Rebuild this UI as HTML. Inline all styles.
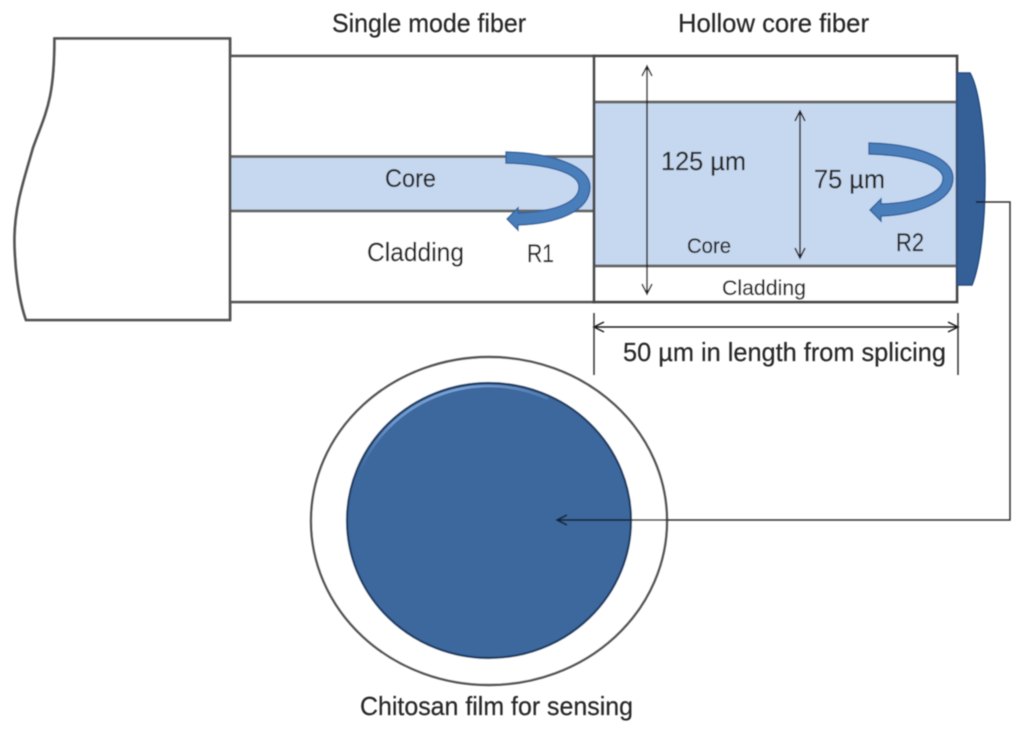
<!DOCTYPE html>
<html>
<head>
<meta charset="utf-8">
<style>
html,body{margin:0;padding:0;background:#fff;width:1024px;height:735px;overflow:hidden}
svg{display:block}
text{font-family:"Liberation Sans",sans-serif;fill:#262626}
</style>
</head>
<body>
<svg width="1024" height="735" viewBox="0 0 1024 735" xmlns="http://www.w3.org/2000/svg">
<defs>
<filter id="soft" x="-5%" y="-5%" width="110%" height="110%"><feGaussianBlur stdDeviation="0.5"/></filter>
<linearGradient id="rim" gradientUnits="userSpaceOnUse" x1="358" y1="470" x2="590" y2="400">
<stop offset="0" stop-color="#3c679d"/>
<stop offset="0.2" stop-color="#6d99d0"/>
<stop offset="0.5" stop-color="#7aa4d9"/>
<stop offset="1" stop-color="#3c679d"/>
</linearGradient>
</defs>
<g filter="url(#soft)">
<!-- left housing -->
<path d="M54.500 38.500H230V320H26C19 300 14.500 268 14.500 238C15 205 24 180 33 148C46 112 54.500 100 54.500 38.500Z" fill="#fff" stroke="#555" stroke-width="2.800"/>
<!-- single mode fiber -->
<rect x="230" y="56" width="364" height="246" fill="#fff" stroke="#555" stroke-width="2.700"/>
<rect x="230" y="156.500" width="364" height="54.500" fill="#c6d8f0" stroke="#666" stroke-width="2.900"/>
<line x1="230" y1="38" x2="230" y2="320" stroke="#555" stroke-width="2.800"/>
<!-- hollow core fiber -->
<rect x="594" y="56" width="363" height="246" fill="#fff" stroke="#444" stroke-width="2.700"/>
<rect x="594" y="102" width="363" height="164" fill="#c6d8f0" stroke="#666" stroke-width="3"/>
<line x1="594" y1="56" x2="594" y2="302" stroke="#4d4d4d" stroke-width="2.800"/>
<!-- film -->
<path d="M957 73H970C980 90 985 140 985 180C985 225 980 265 972 285H957Z" fill="#345f97" stroke="#284d80" stroke-width="1.500"/>
<!-- R1 -->
<path d="M506 152C550 153 590 165 590 187C590 212 555 224 518 225V230L507 219L518 208V213C550 212 579 204 579 187C579 172 545 164 506 163Z" fill="#4a7ebb" stroke="#33639e" stroke-width="1.400"/>
<!-- R2 -->
<path d="M869 143C915 144 953 157 953 178C953 202 915 215 881 216V221L870 210L881 199V204C912 203 943 195 943 178C943 165 910 155 869 154Z" fill="#4a7ebb" stroke="#33639e" stroke-width="1.400"/>
<!-- dimension arrows -->
<g stroke="#1f1f1f" stroke-width="1.500" fill="none">
<path d="M647 66V294M642 76L647 66L652 76M642 284L647 294L652 284"/>
<path d="M800 111V258M795 121L800 111L805 121M795 248L800 258L805 248"/>
<path d="M594 327H958M604 322L594 327L604 332M948 322L958 327L948 332"/>
</g>
<g stroke="#333" stroke-width="1.500">
<line x1="594" y1="313" x2="594" y2="375"/>
<line x1="958" y1="313" x2="958" y2="375"/>
</g>
<!-- bottom circles -->
<ellipse cx="489" cy="521" rx="178" ry="164" fill="#fff" stroke="#555" stroke-width="2.400"/>
<ellipse cx="489" cy="520.500" rx="142" ry="137.500" fill="#3c679d" stroke="#1f3c63" stroke-width="2.200"/>
<ellipse cx="489" cy="520.500" rx="139" ry="134.500" fill="none" stroke="url(#rim)" stroke-width="2.600" stroke-dasharray="250 600" stroke-dashoffset="-455"/>
<!-- connector -->
<path d="M976 202H1010V520H557" fill="none" stroke="#333" stroke-width="1.500"/>
<path d="M567 515L557 520L567 525" fill="none" stroke="#14233a" stroke-width="1.600"/>
<line x1="557" y1="520" x2="631" y2="520" stroke="#14233a" stroke-width="1.500"/>
<line x1="976" y1="202" x2="985" y2="202" stroke="#14233a" stroke-width="1.500"/>
<!-- labels -->
<g stroke="#262626" stroke-width="0.200">
<text x="332" y="32" font-size="26" textLength="194" lengthAdjust="spacingAndGlyphs">Single mode fiber</text>
<text x="678" y="32" font-size="26" textLength="191" lengthAdjust="spacingAndGlyphs">Hollow core fiber</text>
<text x="385" y="187" font-size="25" textLength="51" lengthAdjust="spacingAndGlyphs">Core</text>
<text x="367" y="261" font-size="26" textLength="97" lengthAdjust="spacingAndGlyphs">Cladding</text>
<text x="527" y="262" font-size="25" textLength="27" lengthAdjust="spacingAndGlyphs">R1</text>
<text x="661" y="170" font-size="26" textLength="85" lengthAdjust="spacingAndGlyphs">125 µm</text>
<text x="814" y="188" font-size="26" textLength="71" lengthAdjust="spacingAndGlyphs">75 µm</text>
<text x="687" y="253" font-size="21.500" textLength="44" lengthAdjust="spacingAndGlyphs">Core</text>
<text x="722" y="295" font-size="21.500" textLength="84" lengthAdjust="spacingAndGlyphs">Cladding</text>
<text x="896" y="251" font-size="25" textLength="28" lengthAdjust="spacingAndGlyphs">R2</text>
<text x="623" y="361" font-size="26" textLength="323" lengthAdjust="spacingAndGlyphs">50 µm in length from splicing</text>
<text x="360" y="715" font-size="26" textLength="273" lengthAdjust="spacingAndGlyphs">Chitosan film for sensing</text>
</g>
</g>
</svg>
</body>
</html>
